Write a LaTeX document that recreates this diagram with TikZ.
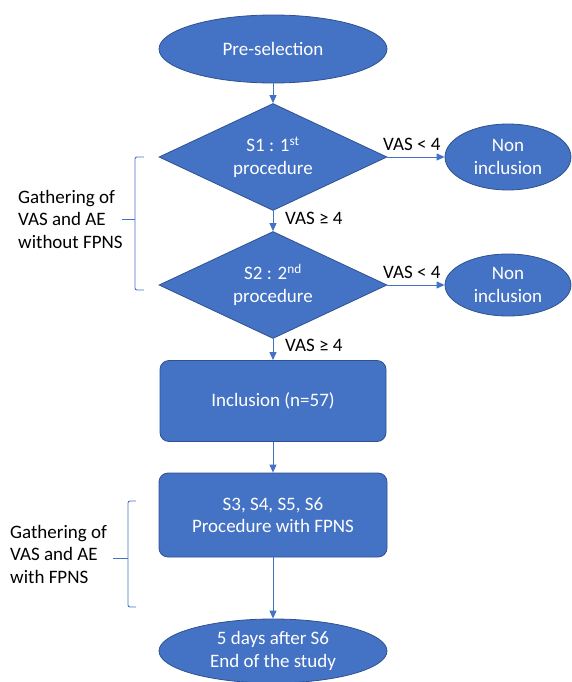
\documentclass[tikz,border=0pt]{standalone}
\usepackage{fontspec}
\setmainfont{Carlito}
\usetikzlibrary{shapes.geometric,arrows.meta}
\definecolor{ofblue}{HTML}{4472C4}
\definecolor{ofedge}{HTML}{2F528F}
\tikzset{
  base/.style={fill=ofblue, draw=ofedge, line width=0.8pt, text=white, align=center, inner sep=0pt,
    font=\fontsize{19}{22.5}\selectfont},
  oval/.style={base, ellipse},
  decide/.style={base, diamond, aspect=2, minimum width=228pt, minimum height=107pt},
  stepbox/.style={base, rounded corners=9pt, minimum width=226pt, minimum height=81pt},
  conn/.style={draw=ofblue, line width=0.9pt, -{Triangle[length=8pt,width=7pt]}},
  lbl/.style={text=black, inner sep=0pt, font=\fontsize{19}{22.5}\selectfont},
  side/.style={text=black, inner sep=0pt, align=left, anchor=west, font=\fontsize{19}{22.5}\selectfont},
  brk/.style={draw=ofblue, line width=0.9pt, rounded corners=2pt}
}
\begin{document}
\begin{tikzpicture}[x=1pt,y=-1pt]
\useasboundingbox (0,0) rectangle (571,682);
\node[oval, minimum width=228pt, minimum height=68pt] (pre) at (273,49) {Pre-selection};
\node[decide] (d1) at (273,157) {S1 : 1\textsuperscript{st}\\procedure};
\node[oval, minimum width=126pt, minimum height=66pt] (ni1) at (508,157) {Non\\inclusion};
\node[decide] (d2) at (273,285) {S2 : 2\textsuperscript{nd}\\procedure};
\node[oval, minimum width=126pt, minimum height=62pt] (ni2) at (508,285) {Non\\inclusion};
\node[stepbox] (inc) at (273,401) {Inclusion (n=57)};
\node[stepbox, minimum width=228pt, minimum height=84pt] (proc) at (273,515) {S3, S4, S5, S6\\Procedure with FPNS};
\node[oval, minimum width=228pt, minimum height=64pt] (end) at (273,651) {5 days after S6\\End of the study};

\draw[conn] (pre) -- (d1);
\draw[conn] (d1.east) -- (ni1.west);
\draw[conn] (d1) -- (d2);
\draw[conn] (d2.east) -- (ni2.west);
\draw[conn] (d2) -- (inc);
\draw[conn] (inc) -- (proc);
\draw[conn] (proc) -- (end);

\node[lbl, anchor=south west] (l1) at (383,151) {VAS < 4};
\node[lbl, anchor=west] (l2) at (285,218) {VAS ≥ 4};
\node[lbl, anchor=south west] (l3) at (383,279) {VAS < 4};
\node[lbl, anchor=west] (l4) at (285,345) {VAS ≥ 4};

% brackets
\coordinate (b1t) at (144,157);
\coordinate (b1b) at (144,290);
\coordinate (b1m) at (122,219);
\draw[brk] (b1t) -- (135,157) -- (135,290) -- (b1b);
\draw[brk] (135,219) -- (b1m);
\node[side] (g1) at (18,219) {Gathering of\\VAS and AE\\without FPNS};

\coordinate (b2t) at (136,501);
\coordinate (b2b) at (136,607);
\coordinate (b2m) at (113,558);
\draw[brk] (b2t) -- (128,501) -- (128,607) -- (b2b);
\draw[brk] (128,558) -- (b2m);
\node[side] (g2) at (10,554) {Gathering of\\VAS and AE\\with FPNS};
\end{tikzpicture}
\end{document}
